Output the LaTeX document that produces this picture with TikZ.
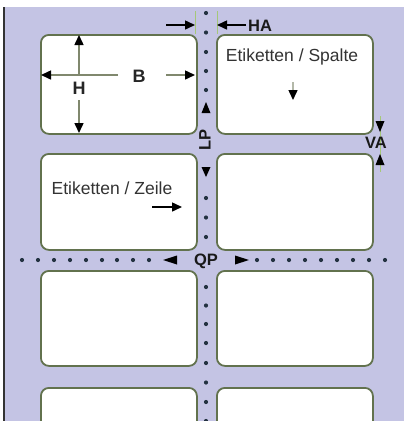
\documentclass[tikz,border=0pt]{standalone}
\usepackage{fontspec}
\setmainfont{Liberation Sans}
\usetikzlibrary{arrows.meta}
\definecolor{lav}{RGB}{196,196,228}
\definecolor{boxc}{RGB}{98,114,78}
\definecolor{dotc}{RGB}{35,50,65}
\definecolor{dimc}{RGB}{128,136,110}
\definecolor{extc}{RGB}{165,200,120}
\tikzset{
  labelbox/.style={draw=boxc, line width=1.8pt, fill=white, rounded corners=8pt,
    minimum width=156pt, anchor=north west, inner sep=0pt},
  pdot/.style={circle, fill=dotc, inner sep=0pt, minimum size=4.2pt},
  tip/.style={-{Triangle[length=10pt,width=9pt,color=black]}},
  dimline/.style={draw=dimc, line width=1.5pt, tip},
  blkline/.style={draw=black, line width=1.5pt, tip},
  extline/.style={draw=extc, line width=1pt},
  big/.style={font=\fontsize{18}{20}\selectfont\bfseries, inner sep=0pt, text=black!85},
  lbl/.style={font=\fontsize{16.5}{18}\selectfont\bfseries, inner sep=0pt, text=black!90},
  txt/.style={font=\fontsize{17.5}{20}\selectfont, inner sep=0pt, text=black!80}
}
\begin{document}
\begin{tikzpicture}[x=1pt,y=-1pt]
\clip (0,0) rectangle (404,421);
\fill[white] (0,0) rectangle (404,421);
\fill[lav] (5,7) rectangle (404,421);
\draw[line width=2pt, black!80] (3.5,7) -- (3.5,421);
% boxes
\node[labelbox, minimum height=99pt] (b11) at (40,34) {};
\node[labelbox, minimum height=99pt] (b12) at (216,34) {};
\node[labelbox, minimum height=96pt] (b21) at (40,153) {};
\node[labelbox, minimum height=96pt] (b22) at (216,153) {};
\node[labelbox, minimum height=95pt] (b31) at (40,270) {};
\node[labelbox, minimum height=95pt] (b32) at (216,270) {};
\node[labelbox, minimum height=95pt] (b41) at (40,387) {};
\node[labelbox, minimum height=95pt] (b42) at (216,387) {};
% vertical dots
\foreach \y [count=\i] in {13,32.5,52,71,90,198,217.5,237,287,305.5,324,343,363,382.5,402,421}
  \node[pdot] (vd\i) at (206,\y) {};
% horizontal dots
\foreach \x [count=\i] in {22,38,54,70,86,102,117,133,149,257,273,289,305,321,337,353,369,385}
  \node[pdot] (hd\i) at (\x,260) {};
% H and B
\coordinate (hT) at (79,35);
\coordinate (hTs) at (79,74);
\coordinate (hB) at (79,133);
\coordinate (hBs) at (79,100);
\node[big] (H) at (79,88) {H};
\draw[dimline] (hTs) -- (hT);
\draw[dimline] (hBs) -- (hB);
\coordinate (bL) at (41,75);
\coordinate (bLs) at (118,75);
\coordinate (bR) at (195,75);
\coordinate (bRs) at (166,75);
\node[big] (B) at (139,76) {B};
\draw[dimline] (bLs) -- (bL);
\draw[dimline] (bRs) -- (bR);
% HA
\draw[extline] (195,11) -- (195,34);
\draw[extline] (217,11) -- (217,34);
\coordinate (haL) at (195,25);
\coordinate (haLs) at (166,25);
\coordinate (haR) at (217,25);
\coordinate (haRs) at (246,25);
\draw[blkline] (haLs) -- (haL);
\draw[blkline] (haRs) -- (haR);
\node[lbl, anchor=west] (HA) at (248,26) {HA};
% LP
\node[lbl, rotate=90] (LP) at (205,140) {LP};
\fill[black] (206,102) -- (210.5,113) -- (201.5,113) -- cycle;
\fill[black] (206,177) -- (210.5,167) -- (201.5,167) -- cycle;
% VA
\draw[extline] (380,116) -- (380,172);
\node[lbl] (VA) at (376,143) {VA};
\fill[black] (380,132) -- (384.5,121) -- (375.5,121) -- cycle;
\fill[black] (380,154) -- (384.5,165) -- (375.5,165) -- cycle;
% QP
\node[lbl] (QP) at (206,261) {QP};
\fill[black] (163,260) -- (177,255.5) -- (177,264.5) -- cycle;
\fill[black] (249,260) -- (235,255.5) -- (235,264.5) -- cycle;
% texts
\node[txt] (spalte) at (292,57) {Etiketten / Spalte};
\coordinate (spS) at (293,82);
\coordinate (spT) at (293,100);
\draw[dimline, draw=dimc!60] (spS) -- (spT);
\node[txt] (zeile) at (112,188) {Etiketten / Zeile};
\coordinate (zeS) at (152,207);
\coordinate (zeT) at (182,207);
\draw[blkline] (zeS) -- (zeT);
\end{tikzpicture}
\end{document}
